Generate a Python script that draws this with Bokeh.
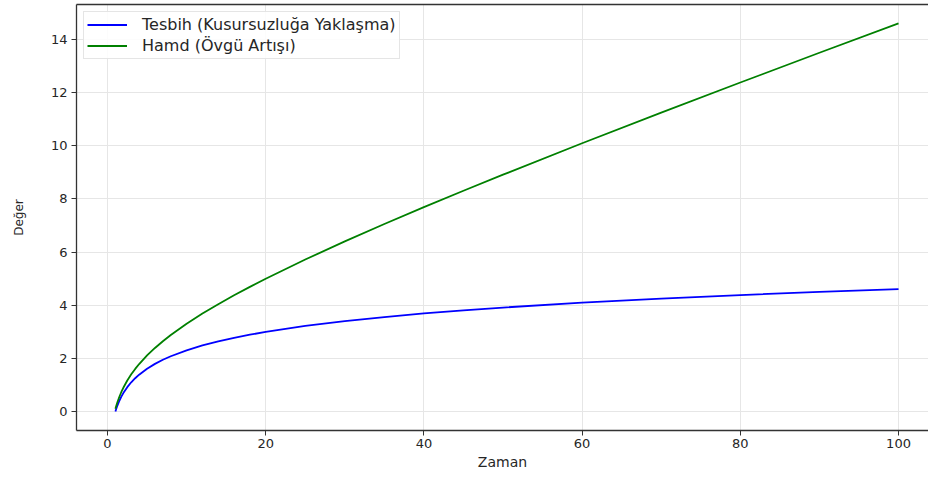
from bokeh.plotting import figure
from bokeh.models import Range1d, LinearAxis, FixedTicker, Legend, LegendItem
from bokeh.embed import file_html
from bokeh.resources import INLINE

# --- data ---
zaman = [1, 1.1, 1.25, 1.5, 1.75, 2, 2.5, 3, 3.5, 4, 5, 6, 7, 8, 10, 12, 14, 16, 18, 20,
         25, 30, 35, 40, 45, 50, 60, 70, 80, 90, 100]
tesbih = [0.0, 0.095, 0.223, 0.405, 0.560, 0.693, 0.916, 1.099, 1.253, 1.386, 1.609, 1.792,
          1.946, 2.079, 2.303, 2.485, 2.639, 2.773, 2.890, 2.996, 3.219, 3.401, 3.555, 3.689,
          3.807, 3.912, 4.094, 4.248, 4.382, 4.500, 4.605]
hamd = [0.10, 0.205, 0.348, 0.555, 0.735, 0.893, 1.166, 1.399, 1.603, 1.786, 2.109, 2.392,
        2.646, 2.879, 3.303, 3.685, 4.039, 4.373, 4.690, 4.996, 5.719, 6.401, 7.055, 7.689,
        8.307, 8.912, 10.094, 11.248, 12.382, 13.500, 14.605]
x_ticks = [0, 20, 40, 60, 80, 100]
y_ticks = [0, 2, 4, 6, 8, 10, 12, 14]
label_tesbih = "Tesbih (Kusursuzluğa Yaklaşma)"
label_hamd = "Hamd (Övgü Artışı)"
x_label = "Zaman"
y_label = "Değer"

FONT = "DejaVu Sans"
AXC = "#333333"

p = figure(width=928, height=477, output_backend="svg", toolbar_location=None,
           x_range=Range1d(-3.92, 103.79), y_range=Range1d(-0.715, 15.317),
           min_border_left=76, min_border_right=0, min_border_top=4, min_border_bottom=47)
p.outline_line_color = None
p.background_fill_color = "white"
p.border_fill_color = "white"

xax = p.below[0]
yax = p.left[0]
for ax in (xax, yax):
    ax.axis_line_color = AXC
    ax.axis_line_width = 1.3
    ax.major_tick_line_color = AXC
    ax.major_tick_out = 5
    ax.major_tick_in = 0
    ax.minor_tick_line_color = None
    ax.major_label_text_font = FONT
    ax.major_label_text_font_size = "13px"
    ax.major_label_text_color = "#262626"
    ax.axis_label_text_font = FONT
    ax.axis_label_text_font_style = "normal"
    ax.axis_label_text_color = "#262626"

xax.ticker = FixedTicker(ticks=x_ticks)
yax.ticker = FixedTicker(ticks=y_ticks)
xax.axis_label = x_label
yax.axis_label = y_label
xax.axis_label_text_font_size = "14px"
yax.axis_label_text_font_size = "12px"
xax.major_label_standoff = 3
xax.axis_label_standoff = 3
yax.major_label_standoff = 4
yax.axis_label_standoff = 22

# top frame line
top = LinearAxis(ticker=FixedTicker(ticks=[]), axis_line_color=AXC, axis_line_width=1.3,
                 major_tick_line_color=None, minor_tick_line_color=None,
                 major_tick_out=0, major_tick_in=0, major_label_standoff=0,
                 axis_label=None, major_label_text_font_size="0px")
p.add_layout(top, "above")

p.xgrid.ticker = FixedTicker(ticks=x_ticks)
p.ygrid.ticker = FixedTicker(ticks=y_ticks)
p.grid.grid_line_color = "#e6e6e6"
p.grid.grid_line_width = 1

r1 = p.line(zaman, tesbih, line_color="#0000ff", line_width=1.8)
r2 = p.line(zaman, hamd, line_color="#008000", line_width=1.8)

legend = Legend(items=[LegendItem(label=label_tesbih, renderers=[r1]),
                       LegendItem(label=label_hamd, renderers=[r2])],
                location="top_left", margin=7, padding=3, spacing=2,
                glyph_width=40, glyph_height=19, label_height=19, label_standoff=15,
                label_text_font=FONT, label_text_font_size="16px", label_text_color="#262626",
                border_line_color="#cccccc", border_line_width=1,
                background_fill_color="white", background_fill_alpha=0.85)
p.add_layout(legend, "center")

open("out.html", "w").write(file_html(p, INLINE))
